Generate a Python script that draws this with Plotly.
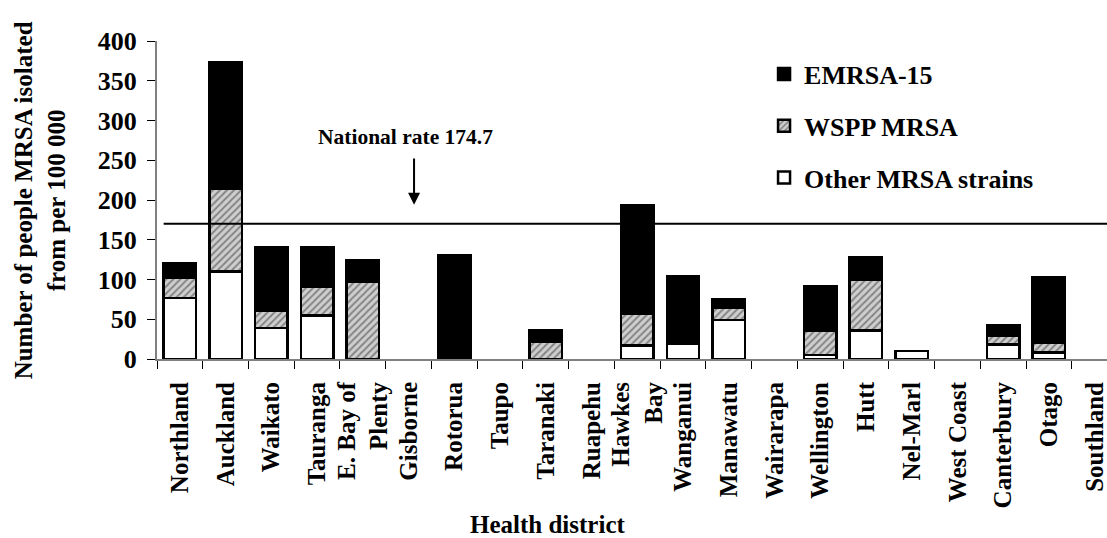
import plotly.graph_objects as go

districts = ["Northland", "Auckland", "Waikato", "Tauranga", "E. Bay of<br>Plenty", "Gisborne",
             "Rotorua", "Taupo", "Taranaki", "Ruapehu", "Hawkes<br>Bay", "Wanganui", "Manawatu",
             "Wairarapa", "Wellington", "Hutt", "Nel-Marl", "West Coast", "Canterbury", "Otago",
             "Southland"]
other = [77, 110, 39, 55, 0, 0, 0, 0, 0, 0, 17, 19, 49, 0, 5, 36, 10, 0, 18, 8, 0]
wspp = [25, 104, 22, 36, 97, 0, 0, 0, 22, 0, 40, 0, 15, 0, 31, 64, 0, 0, 11, 12, 0]
emrsa = [19, 159, 80, 49, 27, 0, 131, 0, 14, 0, 136, 85, 11, 0, 55, 28, 0, 0, 14, 83, 0]
national_line = 170
national_label = "National rate 174.7"
y_ticks = [0, 50, 100, 150, 200, 250, 300, 350, 400]

FONT = "Liberation Serif, Times New Roman, serif"


def nz(vals):
    return [v if v else None for v in vals]


fig = go.Figure()
fig.add_trace(go.Bar(x=districts, y=nz(other), name="Other MRSA strains", legendrank=3,
                     legendgroup="g3",
                     marker=dict(color="white", line=dict(color="black", width=2.5))))
fig.add_trace(go.Bar(x=districts, y=nz(wspp), name="WSPP MRSA", legendrank=2,
                     legendgroup="g2",
                     marker=dict(color="#cccccc", line=dict(color="black", width=2.5),
                                 pattern=dict(shape="/", fgcolor="#3a3a3a", bgcolor="#cfcfcf",
                                              size=5, solidity=0.4))))
fig.add_trace(go.Bar(x=districts, y=nz(emrsa), name="EMRSA-15", legendrank=1,
                     legendgroup="g1",
                     marker=dict(color="black", line=dict(color="black", width=2.5))))

fig.add_shape(type="line", xref="paper", yref="y", x0=0.007, x1=1.0, y0=national_line,
              y1=national_line, line=dict(color="black", width=2))

fig.add_annotation(x=4.93, y=279, xref="x", yref="y", text="<b>" + national_label + "</b>",
                   showarrow=False, font=dict(family=FONT, size=21.5, color="black"))
fig.add_annotation(x=5.12, y=194, ax=5.12, ay=254, xref="x", yref="y", axref="x", ayref="y",
                   text="", showarrow=True, arrowhead=2, arrowsize=1.2, arrowwidth=2,
                   arrowcolor="black")

fig.add_annotation(x=0.4118, y=-0.522, xref="paper", yref="paper", xanchor="center",
                   yanchor="middle", text="<b>Health district</b>", showarrow=False,
                   font=dict(family=FONT, size=25, color="black"))
fig.add_annotation(x=-0.1228, y=0.5, xref="paper", yref="paper", xanchor="center",
                   yanchor="middle", textangle=-90,
                   text="<b>Number of people MRSA isolated<br>from per 100 000</b>",
                   showarrow=False, font=dict(family=FONT, size=25, color="black"))

fig.update_layout(
    barmode="stack", bargap=0.29,
    width=1107, height=538,
    margin=dict(l=156.7, r=0, t=41, b=178.7, autoexpand=False),
    plot_bgcolor="white", paper_bgcolor="white",
    font=dict(family=FONT, size=24, color="black"),
    legend=dict(x=0.639, y=0.97, xanchor="left", yanchor="top",
                traceorder="grouped", tracegroupgap=15, itemwidth=30,
                font=dict(family=FONT, size=26, color="black", weight="bold"),
                bgcolor="rgba(0,0,0,0)"),
    showlegend=True,
)
fig.update_xaxes(
    type="category", tickangle=-90, tickson="boundaries", ticks="outside", ticklen=8,
    tickcolor="black", showline=True, linecolor="#808080", linewidth=2, showgrid=False,
    tickfont=dict(family=FONT, size=25, color="black", weight="bold"), automargin=False,
    range=[-0.5, 20.27], ticklabelstandoff=11,
)
fig.update_yaxes(
    range=[0, 400], tickvals=y_ticks, ticks="outside", ticklen=8, tickcolor="black",
    showline=True, linecolor="#808080", linewidth=2, showgrid=False, zeroline=False,
    tickfont=dict(family=FONT, size=26, color="black", weight="bold"), automargin=False,
    ticklabelstandoff=5,
)

fig.write_html("out.html", config={"displayModeBar": False},
               post_script="document.body.style.margin='0';document.body.style.overflow='hidden';")
